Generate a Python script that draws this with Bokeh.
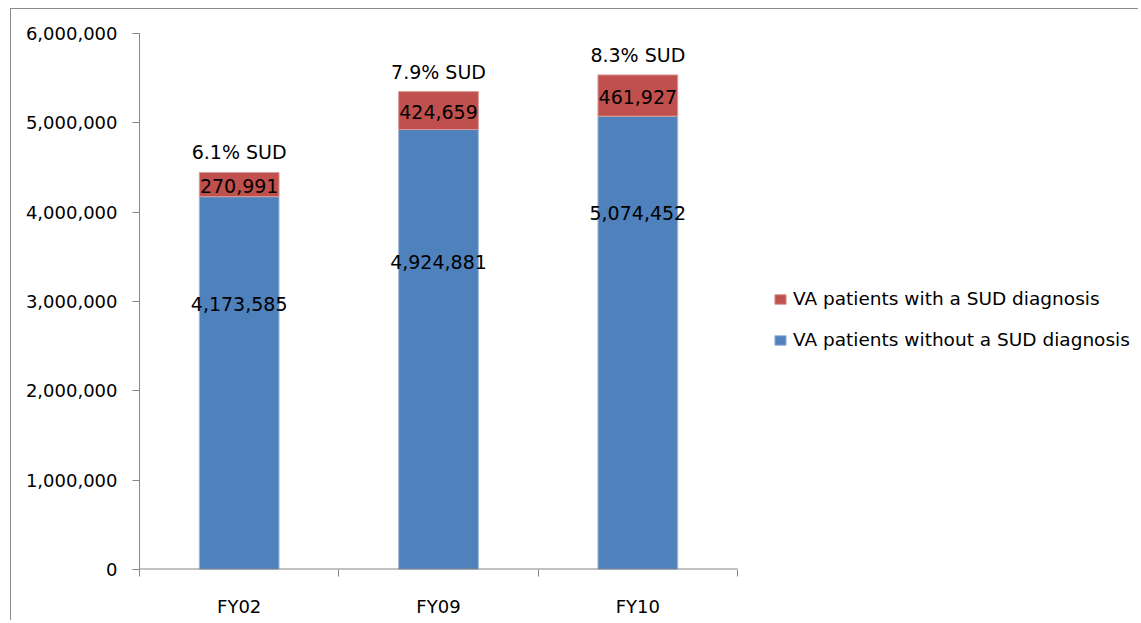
from bokeh.plotting import figure
from bokeh.models import (FixedTicker, NumeralTickFormatter, Legend, LegendItem,
                          ColumnDataSource, Range1d)
from bokeh.core.properties import value
from bokeh.embed import file_html
from bokeh.resources import INLINE

# ---- data ----
categories = ["FY02", "FY09", "FY10"]
without_sud = [4173585, 4924881, 5074452]
with_sud = [270991, 424659, 461927]
pct_labels = ["6.1% SUD", "7.9% SUD", "8.3% SUD"]
without_label_y = [2970000, 3440000, 3990000]   # where the inner labels sit
y_ticks = [0, 1000000, 2000000, 3000000, 4000000, 5000000, 6000000]

FONT = "DejaVu Sans"
GRAY = "#868686"
BLUE = "#4F81BD"
RED = "#C0504D"

n = len(categories)
x = [i + 0.5 for i in range(n)]
totals = [a + b for a, b in zip(without_sud, with_sud)]
src = ColumnDataSource(dict(
    x=x, without=without_sud, withs=with_sud, total=totals,
    red_mid=[a + b / 2 for a, b in zip(without_sud, with_sud)],
    without_y=without_label_y,
    without_txt=[f"{v:,}" for v in without_sud],
    with_txt=[f"{v:,}" for v in with_sud],
    pct=pct_labels,
))

W, H = 1128, 612
LEFT = 128
AXIS_PX = 598          # pixel length of the category axis
frame_w = W - LEFT
p = figure(width=W, height=H, output_backend="svg", toolbar_location=None,
           x_range=Range1d(0, n * frame_w / AXIS_PX), y_range=Range1d(0, 6000000),
           min_border_left=LEFT, min_border_right=0, min_border_top=24,
           min_border_bottom=52)
p.styles = {"margin-left": "10px", "margin-top": "8px",
            "border-left": "1px solid #8a8a8a", "border-top": "1px solid #8a8a8a"}
p.outline_line_color = None
p.xgrid.visible = False
p.ygrid.visible = False
p.background_fill_color = "white"
p.border_fill_color = "white"

blue = p.vbar(x="x", width=0.4, bottom=0, top="without", source=src,
              fill_color=BLUE, line_color="#9fb9da", line_width=1)
red = p.vbar(x="x", width=0.4, bottom="without", top="total", source=src,
             fill_color=RED, line_color="#d99a98", line_width=1)

# category axis line only as long as the categories
p.segment(x0=[0], y0=[0], x1=[n], y1=[0], line_color=GRAY, line_width=2)

p.text(x="x", y="without_y", text="without_txt", source=src,
       text_align="center", text_baseline="middle", text_color="black",
       text_font=value(FONT), text_font_size="19px")
p.text(x="x", y="red_mid", text="with_txt", source=src, y_offset=1,
       text_align="center", text_baseline="middle", text_color="black",
       text_font=value(FONT), text_font_size="19px")
p.text(x="x", y="total", text="pct", source=src, y_offset=-20,
       text_align="center", text_baseline="middle", text_color="black",
       text_font=value(FONT), text_font_size="19px")

# y axis
ya = p.yaxis[0]
ya.ticker = FixedTicker(ticks=y_ticks)
ya.formatter = NumeralTickFormatter(format="0,0")
ya.axis_line_color = GRAY
ya.major_tick_line_color = GRAY
ya.major_tick_out = 7
ya.major_tick_in = 0
ya.minor_tick_line_color = None
ya.major_label_standoff = 15
ya.major_label_text_font = FONT
ya.major_label_text_font_size = "18px"
ya.major_label_text_color = "black"

# x axis: labels at centers, tick marks at category boundaries
xa = p.xaxis[0]
xa.ticker = FixedTicker(ticks=x, minor_ticks=list(range(n + 1)))
xa.major_label_overrides = {xi: c for xi, c in zip(x, categories)}
xa.axis_line_color = None
xa.major_tick_line_color = None
xa.minor_tick_line_color = GRAY
xa.minor_tick_out = 7
xa.minor_tick_in = 0
xa.major_tick_out = 7
xa.major_label_standoff = 19
xa.major_label_text_font = FONT
xa.major_label_text_font_size = "18px"
xa.major_label_text_color = "black"

legend = Legend(items=[
    LegendItem(label="VA patients with a SUD diagnosis", renderers=[red]),
    LegendItem(label="VA patients without a SUD diagnosis", renderers=[blue]),
], location=(634, 219))
legend.padding = 0
legend.margin = 0
legend.border_line_color = None
legend.background_fill_alpha = 0
legend.glyph_width = 14
legend.glyph_height = 12
legend.label_height = 21
legend.spacing = 20
legend.label_standoff = 6
legend.label_text_font = FONT
legend.label_text_font_size = "18.5px"
legend.label_text_color = "black"
p.add_layout(legend)

open("out.html", "w").write(file_html(p, INLINE))
